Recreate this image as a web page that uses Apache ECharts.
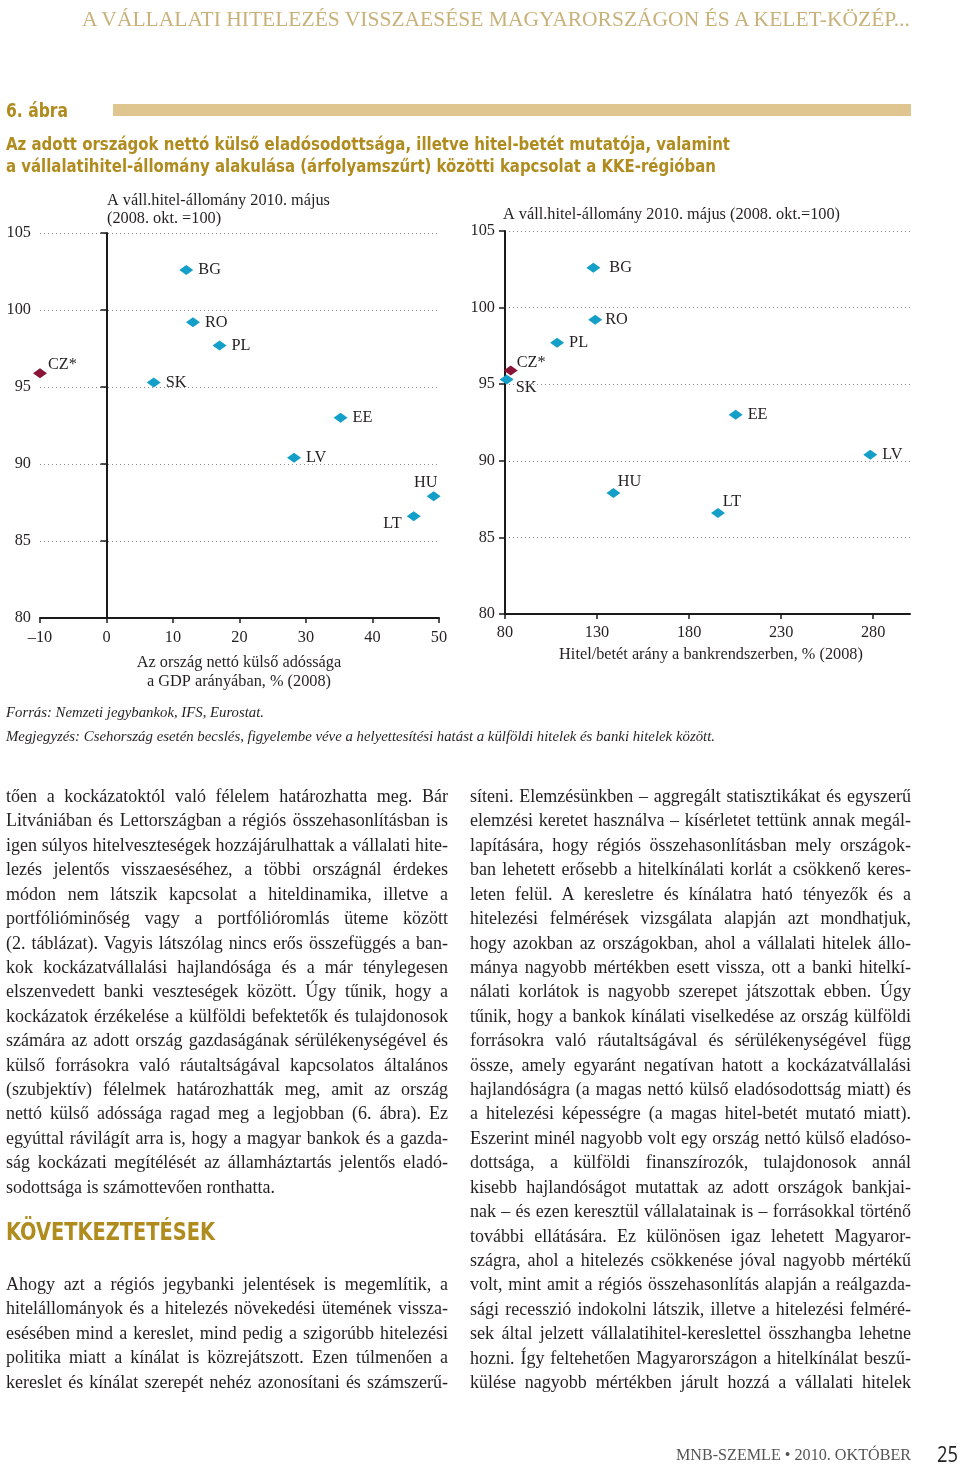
<!DOCTYPE html>
<html><head><meta charset="utf-8">
<script src="https://cdn.jsdelivr.net/npm/echarts@6/dist/echarts.min.js"></script>
<style>
html,body{margin:0;padding:0;background:#fff;}
#page{position:relative;width:960px;height:1465px;overflow:hidden;background:#fff;}
#chart{position:absolute;left:0;top:0;width:960px;height:1465px;}
.t{position:absolute;white-space:nowrap;}
</style></head><body><div id="page"><div id="chart"></div></div>
<script>
// ---------------- DATA ----------------
const countries   = ['BG', 'RO', 'PL', 'CZ*', 'SK', 'EE', 'LV', 'HU', 'LT'];
const estimated   = [false, false, false, true, false, false, false, false, false];
const netExtDebt  = [12.0, 13.0, 17.0, -10.0, 7.1, 35.2, 28.2, 49.2, 46.2];      // % of GDP, 2008
const loanDeposit = [128.0, 129.0, 108.3, 83.1, 80.9, 205.3, 278.4, 138.9, 195.7]; // %, 2008
const corpCredit  = [102.6, 99.2, 97.7, 95.9, 95.3, 93.0, 90.4, 87.9, 86.6];      // 2010 May (2008 Oct = 100)
const yTicks      = [80, 85, 90, 95, 100, 105];
const leftXTicks  = [-10, 0, 10, 20, 30, 40, 50];
const rightXTicks = [80, 130, 180, 230, 280];

// ---------------- STYLE ----------------
const SERIF = "'Liberation Serif', 'DejaVu Serif', serif";
const SANSC = "'Liberation Sans Narrow', 'DejaVu Sans Condensed', 'Liberation Sans', sans-serif";
const INK = '#231f20';
const TEAL = '#139fc8';
const WINE = '#8a1438';
const GOLD = '#b08b1d';
const FS = 16.3;

const labelPosLeft = {
  'BG': {position:'right'}, 'RO': {position:'right'}, 'PL': {position:'right'},
  'CZ*': {position:'right', offset:[-4,-8]}, 'SK': {position:'right'}, 'EE': {position:'right'},
  'LV': {position:'right'}, 'HU': {position:'top', offset:[-8,4]}, 'LT': {position:'left', offset:[0,7]}
};
const labelPosRight = {
  'BG': {position:'right', offset:[4,0]}, 'RO': {position:'right', offset:[-2,0]}, 'PL': {position:'right'},
  'CZ*': {position:'right', offset:[-6,-8]}, 'SK': {position:'right', offset:[-3,8]}, 'EE': {position:'right'},
  'LV': {position:'right'}, 'HU': {position:'top', offset:[16,7]}, 'LT': {position:'top', offset:[14,7]}
};

function buildData(xs, est, posMap) {
  const out = [];
  countries.forEach((c, i) => {
    if (estimated[i] !== est) return;
    out.push({ name: c, value: [xs[i], corpCredit[i]], label: Object.assign({}, posMap[c]) });
  });
  return out;
}

const axisText = { fontFamily: SERIF, fontSize: FS, color: INK };
const axLine = { color: '#1a1a1a', width: 2 };
const tickLine = { color: '#1a1a1a', width: 1.5 };
const gridDots = { color: '#8a8a8a', width: 1, type: [1, 3] };
const seriesLabel = { show: true, formatter: '{b}', fontFamily: SERIF, fontSize: FS, color: INK, distance: 5 };
const dash = v => (v < 0 ? '\u2013' + (-v) : String(v));

function txt(x, y, text, align) {
  return { type: 'text', x: x, y: y, silent: true,
    style: { text: text, fontFamily: SERIF, fontSize: FS, fill: INK,
      textAlign: align || 'left', textVerticalAlign: 'middle', align: align || 'left', verticalAlign: 'middle' } };
}

function scatter(xi, yi, xs, est, color, posMap) {
  return { type: 'scatter', xAxisIndex: xi, yAxisIndex: yi, symbol: 'diamond', symbolSize: [14, 10],
    itemStyle: { color: color, opacity: 1 }, emphasis: { disabled: true },
    label: seriesLabel, data: buildData(xs, est, posMap) };
}

const chart = echarts.init(document.getElementById('chart'), null, { renderer: 'canvas' });
chart.setOption({
  animation: false,
  grid: [
    { left: 40, top: 233, width: 399, height: 385 },
    { left: 505, top: 231, width: 405, height: 383 }
  ],
  xAxis: [
    { gridIndex: 0, type: 'value', min: leftXTicks[0], max: leftXTicks[leftXTicks.length - 1], interval: 10,
      axisLine: { onZero: false, lineStyle: axLine },
      axisTick: { length: 5, lineStyle: tickLine },
      axisLabel: Object.assign({ margin: 12, formatter: dash }, axisText),
      splitLine: { show: false } },
    { gridIndex: 1, type: 'value', min: 80, max: 300,
      axisLine: { onZero: false, lineStyle: axLine },
      axisTick: { length: 5, lineStyle: tickLine, customValues: rightXTicks },
      axisLabel: Object.assign({ margin: 11, customValues: rightXTicks }, axisText),
      splitLine: { show: false } }
  ],
  yAxis: [
    { gridIndex: 0, type: 'value', position: 'left', min: yTicks[0], max: yTicks[yTicks.length - 1], interval: 5,
      axisLine: { show: false, onZero: false }, axisTick: { show: false },
      axisLabel: Object.assign({ margin: 9 }, axisText),
      splitLine: { show: true, lineStyle: gridDots } },
    { gridIndex: 0, type: 'value', position: 'left', min: yTicks[0], max: yTicks[yTicks.length - 1], interval: 5,
      axisLine: { show: true, onZero: true, lineStyle: axLine },
      axisTick: { show: true, length: 6, lineStyle: tickLine },
      axisLabel: { show: false }, splitLine: { show: false } },
    { gridIndex: 1, type: 'value', position: 'left', min: yTicks[0], max: yTicks[yTicks.length - 1], interval: 5,
      axisLine: { show: true, onZero: false, lineStyle: axLine },
      axisTick: { show: true, length: 6, lineStyle: tickLine },
      axisLabel: Object.assign({ margin: 10 }, axisText),
      splitLine: { show: true, lineStyle: gridDots } }
  ],
  series: [
    scatter(0, 0, netExtDebt, true, WINE, labelPosLeft),
    scatter(0, 0, netExtDebt, false, TEAL, labelPosLeft),
    scatter(1, 2, loanDeposit, true, WINE, labelPosRight),
    scatter(1, 2, loanDeposit, false, TEAL, labelPosRight)
  ],
  graphic: [
    txt(107, 201, 'A váll.hitel-állomány 2010. május'),
    txt(107, 219, '(2008. okt. =100)'),
    txt(503, 215, 'A váll.hitel-állomány 2010. május (2008. okt.=100)'),
    txt(239, 663, 'Az ország nettó külső adóssága', 'center'),
    txt(239, 682, 'a GDP arányában, % (2008)', 'center'),
    txt(711, 655, 'Hitel/betét arány a bankrendszerben, % (2008)', 'center')
  ]
});

// ---------------- PAGE TEXT ----------------
const page = document.getElementById('page');
function place(text, x, cy, w, css, mode) {
  const d = document.createElement('div');
  d.className = 't';
  Object.assign(d.style, css);
  const lh = parseFloat(css.lineHeight);
  d.style.left = x + 'px';
  d.style.top = (cy - lh / 2) + 'px';
  const s = document.createElement('span');
  s.textContent = text;
  d.appendChild(s);
  page.appendChild(d);
  const nat = s.getBoundingClientRect().width;
  if (mode === 'j') {
    const n = (text.match(/ /g) || []).length;
    if (n) d.style.wordSpacing = ((w - nat) / n) + 'px';
  } else if (mode === 's') {
    s.style.display = 'inline-block';
    s.style.transformOrigin = 'left center';
    s.style.transform = 'scaleX(' + (w / nat) + ')';
  }
  return d;
}

const headerCss = { fontFamily: SERIF, fontSize: '21px', lineHeight: '24px', color: '#c8b27a' };
place('A VÁLLALATI HITELEZÉS VISSZAESÉSE MAGYARORSZÁGON ÉS A KELET-KÖZÉP...', 82, 19, 828, headerCss, 's');

const figCss = { fontFamily: SANSC, fontWeight: 'bold', fontSize: '20px', lineHeight: '24px', color: GOLD };
place('6. ábra', 6, 110, 62, figCss, 's');
const bar = document.createElement('div');
Object.assign(bar.style, { position: 'absolute', left: '113px', top: '104px', width: '798px', height: '12px', background: '#dfc690' });
page.appendChild(bar);

const titleCss = { fontFamily: SANSC, fontWeight: 'bold', fontSize: '18px', lineHeight: '22px', color: GOLD };
place('Az adott országok nettó külső eladósodottsága, illetve hitel-betét mutatója, valamint', 6, 144, 724, titleCss, 's');
place('a vállalatihitel-állomány alakulása (árfolyamszűrt) közötti kapcsolat a KKE-régióban', 6, 166, 710, titleCss, 's');

const noteCss = { fontFamily: SERIF, fontStyle: 'italic', fontSize: '14px', lineHeight: '18px', color: INK };
place('Forrás: Nemzeti jegybankok, IFS, Eurostat.', 6, 713, 258, noteCss, 's');
place('Megjegyzés: Csehország esetén becslés, figyelembe véve a helyettesítési hatást a külföldi hitelek és banki hitelek között.', 6, 737, 709, noteCss, 's');

const bodyCss = { fontFamily: SERIF, fontSize: '18px', lineHeight: '24px', color: INK };
const LH = 24.42, Y0 = 796;
const leftLines = [
  ['tően a kockázatoktól való félelem határozhatta meg. Bár', 1],
  ['Litvániában és Lettországban a régiós összehasonlításban is', 1],
  ['igen súlyos hitelveszteségek hozzájárulhattak a vállalati hite-', 1],
  ['lezés jelentős visszaeséséhez, a többi országnál érdekes', 1],
  ['módon nem látszik kapcsolat a hiteldinamika, illetve a', 1],
  ['portfólióminőség vagy a portfólióromlás üteme között', 1],
  ['(2. táblázat). Vagyis látszólag nincs erős összefüggés a ban-', 1],
  ['kok kockázatvállalási hajlandósága és a már ténylegesen', 1],
  ['elszenvedett banki veszteségek között. Úgy tűnik, hogy a', 1],
  ['kockázatok érzékelése a külföldi befektetők és tulajdonosok', 1],
  ['számára az adott ország gazdaságának sérülékenységével és', 1],
  ['külső forrásokra való ráutaltságával kapcsolatos általános', 1],
  ['(szubjektív) félelmek határozhatták meg, amit az ország', 1],
  ['nettó külső adóssága ragad meg a legjobban (6. ábra). Ez', 1],
  ['egyúttal rávilágít arra is, hogy a magyar bankok és a gazda-', 1],
  ['ság kockázati megítélését az államháztartás jelentős eladó-', 1],
  ['sodottsága is számottevően ronthatta.', 0]
];
leftLines.forEach((l, i) => place(l[0], 6, Y0 + i * LH, 442, bodyCss, l[1] ? 'j' : ''));
const left2 = [
  'Ahogy azt a régiós jegybanki jelentések is megemlítik, a',
  'hitelállományok és a hitelezés növekedési ütemének vissza-',
  'esésében mind a kereslet, mind pedig a szigorúbb hitelezési',
  'politika miatt a kínálat is közrejátszott. Ezen túlmenően a',
  'kereslet és kínálat szerepét nehéz azonosítani és számszerű-'
];
left2.forEach((l, i) => place(l, 6, 1284 + i * LH, 442, bodyCss, 'j'));
const headCss = { fontFamily: SANSC, fontWeight: 'bold', fontSize: '25px', lineHeight: '28px', color: GOLD };
place('KÖVETKEZTETÉSEK', 6, 1232, 209, headCss, 's');

const rightLines = [
  'síteni. Elemzésünkben – aggregált statisztikákat és egyszerű',
  'elemzési keretet használva – kísérletet tettünk annak megál-',
  'lapítására, hogy régiós összehasonlításban mely országok-',
  'ban lehetett erősebb a hitelkínálati korlát a csökkenő keres-',
  'leten felül. A keresletre és kínálatra ható tényezők és a',
  'hitelezési felmérések vizsgálata alapján azt mondhatjuk,',
  'hogy azokban az országokban, ahol a vállalati hitelek állo-',
  'mánya nagyobb mértékben esett vissza, ott a banki hitelkí-',
  'nálati korlátok is nagyobb szerepet játszottak ebben. Úgy',
  'tűnik, hogy a bankok kínálati viselkedése az ország külföldi',
  'forrásokra való ráutaltságával és sérülékenységével függ',
  'össze, amely egyaránt negatívan hatott a kockázatvállalási',
  'hajlandóságra (a magas nettó külső eladósodottság miatt) és',
  'a hitelezési képességre (a magas hitel-betét mutató miatt).',
  'Eszerint minél nagyobb volt egy ország nettó külső eladóso-',
  'dottsága, a külföldi finanszírozók, tulajdonosok annál',
  'kisebb hajlandóságot mutattak az adott országok bankjai-',
  'nak – és ezen keresztül vállalatainak is – forrásokkal történő',
  'további ellátására. Ez különösen igaz lehetett Magyaror-',
  'szágra, ahol a hitelezés csökkenése jóval nagyobb mértékű',
  'volt, mint amit a régiós összehasonlítás alapján a reálgazda-',
  'sági recesszió indokolni látszik, illetve a hitelezési felméré-',
  'sek által jelzett vállalatihitel-kereslettel összhangba lehetne',
  'hozni. Így feltehetően Magyarországon a hitelkínálat beszű-',
  'külése nagyobb mértékben járult hozzá a vállalati hitelek'
];
rightLines.forEach((l, i) => place(l, 470, Y0 + i * LH, 441, bodyCss, 'j'));

const footCss = { fontFamily: SERIF, fontSize: '16px', lineHeight: '20px', color: '#555' };
place('MNB-SZEMLE • 2010. OKTÓBER', 676, 1455, 235, footCss, 's');
const numCss = { fontFamily: "'Open Sans', 'Liberation Sans', sans-serif", fontSize: '22px', lineHeight: '26px', color: '#222' };
place('25', 937, 1453, 21, numCss, 's');
</script>
</body></html>
